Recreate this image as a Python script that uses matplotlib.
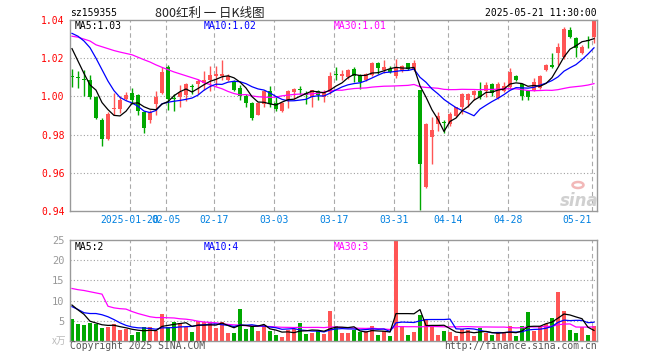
import numpy as np
import pandas as pd
import matplotlib
matplotlib.use("Agg")
import matplotlib.pyplot as plt
from matplotlib.patches import Circle

# ---------------- data ----------------
opens = [1.0105, 1.0097, 1.0090, 1.0084, 0.9996, 0.9875, 0.9777, 0.9932, 0.9935, 0.9984,
         1.0018, 1.0007, 0.9918, 0.9877, 0.9958, 1.0018, 1.0154, 0.9990, 0.9996, 1.0009,
         1.0051, 1.0067, 1.0070, 1.0084, 1.0105, 1.0105, 1.0088, 1.0079, 1.0044, 1.0000,
         0.9965, 0.9905, 0.9958, 1.0028, 0.9965, 0.9923, 0.9979, 1.0023, 1.0036, 1.0018,
         0.9996, 1.0028, 0.9998, 1.0023, 1.0111, 1.0105, 1.0102, 1.0146, 1.0111, 1.0084,
         1.0111, 1.0175, 1.0137, 1.0145, 1.0105, 1.0140, 1.0175, 1.0137, 1.0032, 0.9526,
         0.9789, 0.9853, 0.9861, 0.9853, 0.9895, 0.9944, 0.9979, 1.0005, 1.0028, 1.0028,
         1.0067, 0.9993, 1.0028, 1.0049, 1.0105, 1.0063, 1.0028, 1.0032, 1.0046, 1.0140,
         1.0163, 1.0228, 1.0204, 1.0347, 1.0304, 1.0228, 1.0292, 1.0312]
closes = [1.0103, 1.0095, 1.0085, 0.9996, 0.9886, 0.9777, 0.9909, 0.9935, 0.9982, 1.0009,
          0.9982, 0.9923, 0.9833, 0.9918, 0.9996, 1.0128, 0.9988, 0.9988, 1.0023, 1.0067,
          1.0049, 1.0079, 1.0088, 1.0111, 1.0119, 1.0116, 1.0105, 1.0035, 1.0000, 0.9965,
          0.9888, 0.9965, 1.0028, 0.9958, 0.9935, 0.9965, 1.0028, 1.0040, 1.0035, 1.0005,
          1.0032, 1.0005, 1.0018, 1.0105, 1.0110, 1.0116, 1.0140, 1.0105, 1.0075, 1.0116,
          1.0175, 1.0151, 1.0154, 1.0130, 1.0150, 1.0158, 1.0146, 1.0175, 0.9646, 0.9856,
          0.9825, 0.9895, 0.9860, 0.9909, 0.9944, 1.0011, 1.0011, 1.0028, 0.9996, 1.0058,
          1.0018, 1.0067, 1.0053, 1.0128, 1.0088, 1.0000, 0.9996, 1.0075, 1.0105, 1.0163,
          1.0154, 1.0260, 1.0351, 1.0309, 1.0251, 1.0260, 1.0291, 1.0400]
highs = [1.0146, 1.0132, 1.0137, 1.0110, 1.0000, 0.9886, 0.9918, 1.0018, 1.0000, 1.0023,
         1.0044, 1.0011, 0.9926, 0.9930, 1.0028, 1.0154, 1.0163, 1.0011, 1.0061, 1.0070,
         1.0067, 1.0089, 1.0132, 1.0158, 1.0158, 1.0189, 1.0119, 1.0088, 1.0058, 1.0011,
         0.9970, 0.9970, 1.0032, 1.0053, 0.9996, 0.9970, 1.0032, 1.0046, 1.0054, 1.0028,
         1.0035, 1.0032, 1.0035, 1.0128, 1.0154, 1.0137, 1.0146, 1.0154, 1.0119, 1.0123,
         1.0181, 1.0181, 1.0189, 1.0158, 1.0195, 1.0163, 1.0177, 1.0189, 1.0032, 0.9860,
         0.9891, 0.9918, 0.9874, 0.9918, 0.9947, 1.0018, 1.0018, 1.0032, 1.0075, 1.0075,
         1.0070, 1.0075, 1.0075, 1.0151, 1.0111, 1.0067, 1.0032, 1.0096, 1.0111, 1.0172,
         1.0225, 1.0277, 1.0365, 1.0365, 1.0309, 1.0268, 1.0316, 1.0404]
lows = [1.0049, 1.0044, 1.0000, 0.9988, 0.9880, 0.9742, 0.9772, 0.9905, 0.9912, 0.9979,
        0.9961, 0.9905, 0.9807, 0.9860, 0.9905, 1.0011, 0.9930, 0.9921, 0.9944, 0.9977,
        1.0014, 1.0014, 1.0035, 1.0028, 1.0053, 1.0088, 1.0081, 1.0028, 0.9982, 0.9944,
        0.9874, 0.9900, 0.9947, 0.9944, 0.9926, 0.9918, 0.9940, 0.9988, 1.0011, 0.9958,
        0.9947, 0.9982, 0.9972, 1.0011, 1.0084, 1.0084, 1.0093, 1.0075, 1.0040, 1.0081,
        1.0105, 1.0119, 1.0123, 1.0123, 1.0098, 1.0128, 1.0140, 1.0133, 0.9404, 0.9523,
        0.9646, 0.9821, 0.9807, 0.9847, 0.9891, 0.9909, 0.9947, 0.9982, 0.9988, 0.9996,
        1.0000, 0.9988, 1.0023, 1.0040, 1.0081, 0.9982, 0.9982, 1.0028, 1.0040, 1.0133,
        1.0151, 1.0163, 1.0198, 1.0304, 1.0204, 1.0221, 1.0256, 1.0277]
volumes = [5.4, 4.2, 3.9, 4.5, 4.3, 3.2, 3.4, 4.1, 2.75, 2.9,
           1.4, 2.2, 3.4, 3.4, 2.4, 6.7, 3.4, 4.7, 4.4, 3.4,
           2.2, 4.9, 4.7, 4.7, 3.2, 4.7, 1.9, 1.9, 7.9, 2.9,
           3.4, 2.4, 3.9, 2.4, 1.4, 0.9, 2.7, 2.9, 4.4, 1.7,
           1.9, 2.4, 1.7, 7.4, 3.7, 1.9, 1.9, 2.7, 2.2, 2.4,
           3.7, 1.4, 2.4, 1.2, 25.2, 3.7, 1.4, 2.2, 6.4, 5.4,
           3.9, 1.4, 2.4, 2.2, 1.2, 2.9, 2.7, 1.2, 3.2, 1.9,
           1.4, 1.9, 2.0, 3.8, 1.15, 3.6, 7.3, 2.4, 3.8, 4.3,
           5.6, 12.2, 7.5, 2.6, 1.9, 3.4, 1.6, 3.6]

# moving-average values at the start of the window (history before the first candle)
ma5_head = [1.0250, 1.0185, 1.0120, 1.0060]
ma10_head = [1.0330, 1.0315, 1.0290, 1.0255, 1.0200, 1.0140, 1.0080, 1.0030, 0.9995]
ma30_head = [1.0315, 1.0310, 1.0300, 1.0290, 1.0270, 1.0260, 1.0250, 1.0240, 1.0232, 1.0225,
             1.0218, 1.0205, 1.0192, 1.0180, 1.0165, 1.0152, 1.0140, 1.0128, 1.0118, 1.0108,
             1.0098, 1.0088, 1.0072, 1.0062, 1.0050, 1.0040, 1.0026, 1.0015, 1.0008]
vma5_head = [8.9, 7.7, 6.6, 4.9]
vma10_head = [8.5, 7.8, 7.0, 6.8, 6.8, 6.5, 6.0, 5.3, 4.5]
vma30_head = [13.0, 12.7, 12.5, 12.2, 11.9, 11.6, 8.6, 8.2, 8.0, 7.9,
              7.3, 6.8, 6.4, 6.0, 5.8, 5.8, 5.75, 5.7, 5.5, 5.4,
              5.2, 4.9, 4.7, 4.6, 4.5, 4.3, 4.1, 4.0, 3.9]

date_tick_idx = [10, 16, 24, 34, 44, 54, 63, 73, 87]
date_tick_labels = ["2025-01-20", "02-05", "02-17", "03-03", "03-17", "03-31",
                    "04-14", "04-28", "05-21"]
price_ticks = [0.94, 0.96, 0.98, 1.00, 1.02, 1.04]
vol_ticks = [5, 10, 15, 20, 25]

# ---------------- helpers ----------------
def moving_avg(vals, n, head):
    s = pd.Series(vals, dtype=float).rolling(n).mean().to_numpy()
    s[:len(head)] = head
    return s

RED = "#ff5555"
GREEN = "#00a800"
GRID = "#a0a0a0"
SPINE = "#999999"
MONO = "DejaVu Sans Mono"

o = np.array(opens); c = np.array(closes); h = np.array(highs); l = np.array(lows)
v = np.array(volumes)
x = np.arange(len(c))
cols = np.where(c >= o, RED, GREEN)

W, H = 660, 360
def rect(left, top, right, bottom):
    return [left / W, 1 - bottom / H, (right - left) / W, (bottom - top) / H]

fig = plt.figure(figsize=(6.6, 3.6), dpi=100)
ax = fig.add_axes(rect(70, 20, 597, 211))
axv = fig.add_axes(rect(70, 240, 597, 341))

xlim = (-0.333, 87.5)
vline_x = np.array(date_tick_idx) - 0.33

for a in (ax, axv):
    a.set_xlim(*xlim)
    for s in a.spines.values():
        s.set_color(SPINE)
        s.set_linewidth(1.0)
    for xv in vline_x:
        a.axvline(xv, color="#aaaaaa", lw=0.8, ls=(0, (4, 2.8)), zorder=0.5)

# ---- price panel ----
ax.set_ylim(0.94, 1.04)
for yv in price_ticks[1:-1]:
    ax.axhline(yv, color=GRID, lw=0.8, ls=(0, (1, 2)), zorder=0.5)
ax.vlines(x, l, h, colors=cols, lw=1.0, zorder=2)
body_bottom = np.minimum(o, c)
body_h = np.maximum(np.abs(c - o), 0.0006)
ax.bar(x, body_h, 0.8, bottom=body_bottom, color=cols, linewidth=0, zorder=2)

ma5 = moving_avg(c, 5, ma5_head)
ma10 = moving_avg(c, 10, ma10_head)
ma30 = moving_avg(c, 30, ma30_head)
ax.plot(x, ma30, color="#ff00ff", lw=0.9, zorder=3)
ax.plot(x, ma10, color="#0000ff", lw=0.9, zorder=3)
ax.plot(x, ma5, color="black", lw=0.9, zorder=3)

ax.set_yticks(price_ticks)
ax.set_yticklabels([f"{t:.2f}" for t in price_ticks], family=MONO, fontsize=7)
ax.tick_params(axis="y", length=0, pad=4, labelcolor="red")
ax.set_xticks(vline_x)
ax.set_xticklabels(date_tick_labels, family=MONO, fontsize=7)
ax.tick_params(axis="x", length=0, pad=3, labelcolor="#0080e0")
ax.get_xticklabels()[-1].set_ha("right")

def figtext(px, py, s, **kw):
    fig.text(px / W, 1 - py / H, s, **kw)

figtext(75, 26, "MA5:1.03", color="black", family=MONO, fontsize=7, va="center")
figtext(204, 26, "MA10:1.02", color="#0000ff", family=MONO, fontsize=7, va="center")
figtext(334, 26, "MA30:1.01", color="#ff00ff", family=MONO, fontsize=7, va="center")

# sina watermark
figtext(599, 201, "sina", color="#d0d0d0", fontsize=12, fontweight="bold",
        fontstyle="italic", ha="right", va="center", family="DejaVu Sans")
fig.patches.append(Circle((578 / W, 1 - 185 / H), 5.5 / W, transform=fig.transFigure,
                          facecolor="none", edgecolor="#f2b8b8", lw=1.8))

# ---- volume panel ----
axv.set_ylim(0, 25)
for yv in vol_ticks[:-1]:
    axv.axhline(yv, color=GRID, lw=0.8, ls=(0, (1, 2)), zorder=0.5)
axv.bar(x, v, 0.8, color=cols, linewidth=0, zorder=2)
vma5 = moving_avg(v, 5, vma5_head)
vma10 = moving_avg(v, 10, vma10_head)
vma30 = moving_avg(v, 30, vma30_head)
axv.plot(x, vma30, color="#ff00ff", lw=0.9, zorder=3)
axv.plot(x, vma10, color="#0000ff", lw=0.9, zorder=3)
axv.plot(x, vma5, color="black", lw=0.9, zorder=3)
axv.set_yticks(vol_ticks)
axv.set_yticklabels([str(t) for t in vol_ticks], family=MONO, fontsize=7.5)
axv.tick_params(axis="y", length=0, pad=4, labelcolor="#999999")
axv.set_xticks([])

figtext(75, 247, "MA5:2", color="black", family=MONO, fontsize=7, va="center")
figtext(204, 247, "MA10:4", color="#0000ff", family=MONO, fontsize=7, va="center")
figtext(334, 247, "MA30:3", color="#ff00ff", family=MONO, fontsize=7, va="center")
figtext(66, 341, "x万", color="#bbbbbb", fontsize=7, ha="right", va="center",
        family=["Noto Sans CJK SC", "DejaVu Sans"])

# ---- header / footer ----
figtext(70, 13, "sz159355", color="black", family=MONO, fontsize=7, va="center")
figtext(210, 13, "800红利 一 日K线图", color="#222222", fontsize=9, ha="center",
        va="center", family=["Noto Sans CJK SC", "DejaVu Sans"])
figtext(597, 13, "2025-05-21 11:30:00", color="black", family=MONO, fontsize=7,
        ha="right", va="center")
figtext(70, 346, "Copyright 2025 SINA.COM", color="#555555", family=MONO, fontsize=7,
        va="center")
figtext(597, 346, "http://finance.sina.com.cn", color="#555555", family=MONO,
        fontsize=7, ha="right", va="center")

fig.savefig("out.png", dpi=100, facecolor="white")
